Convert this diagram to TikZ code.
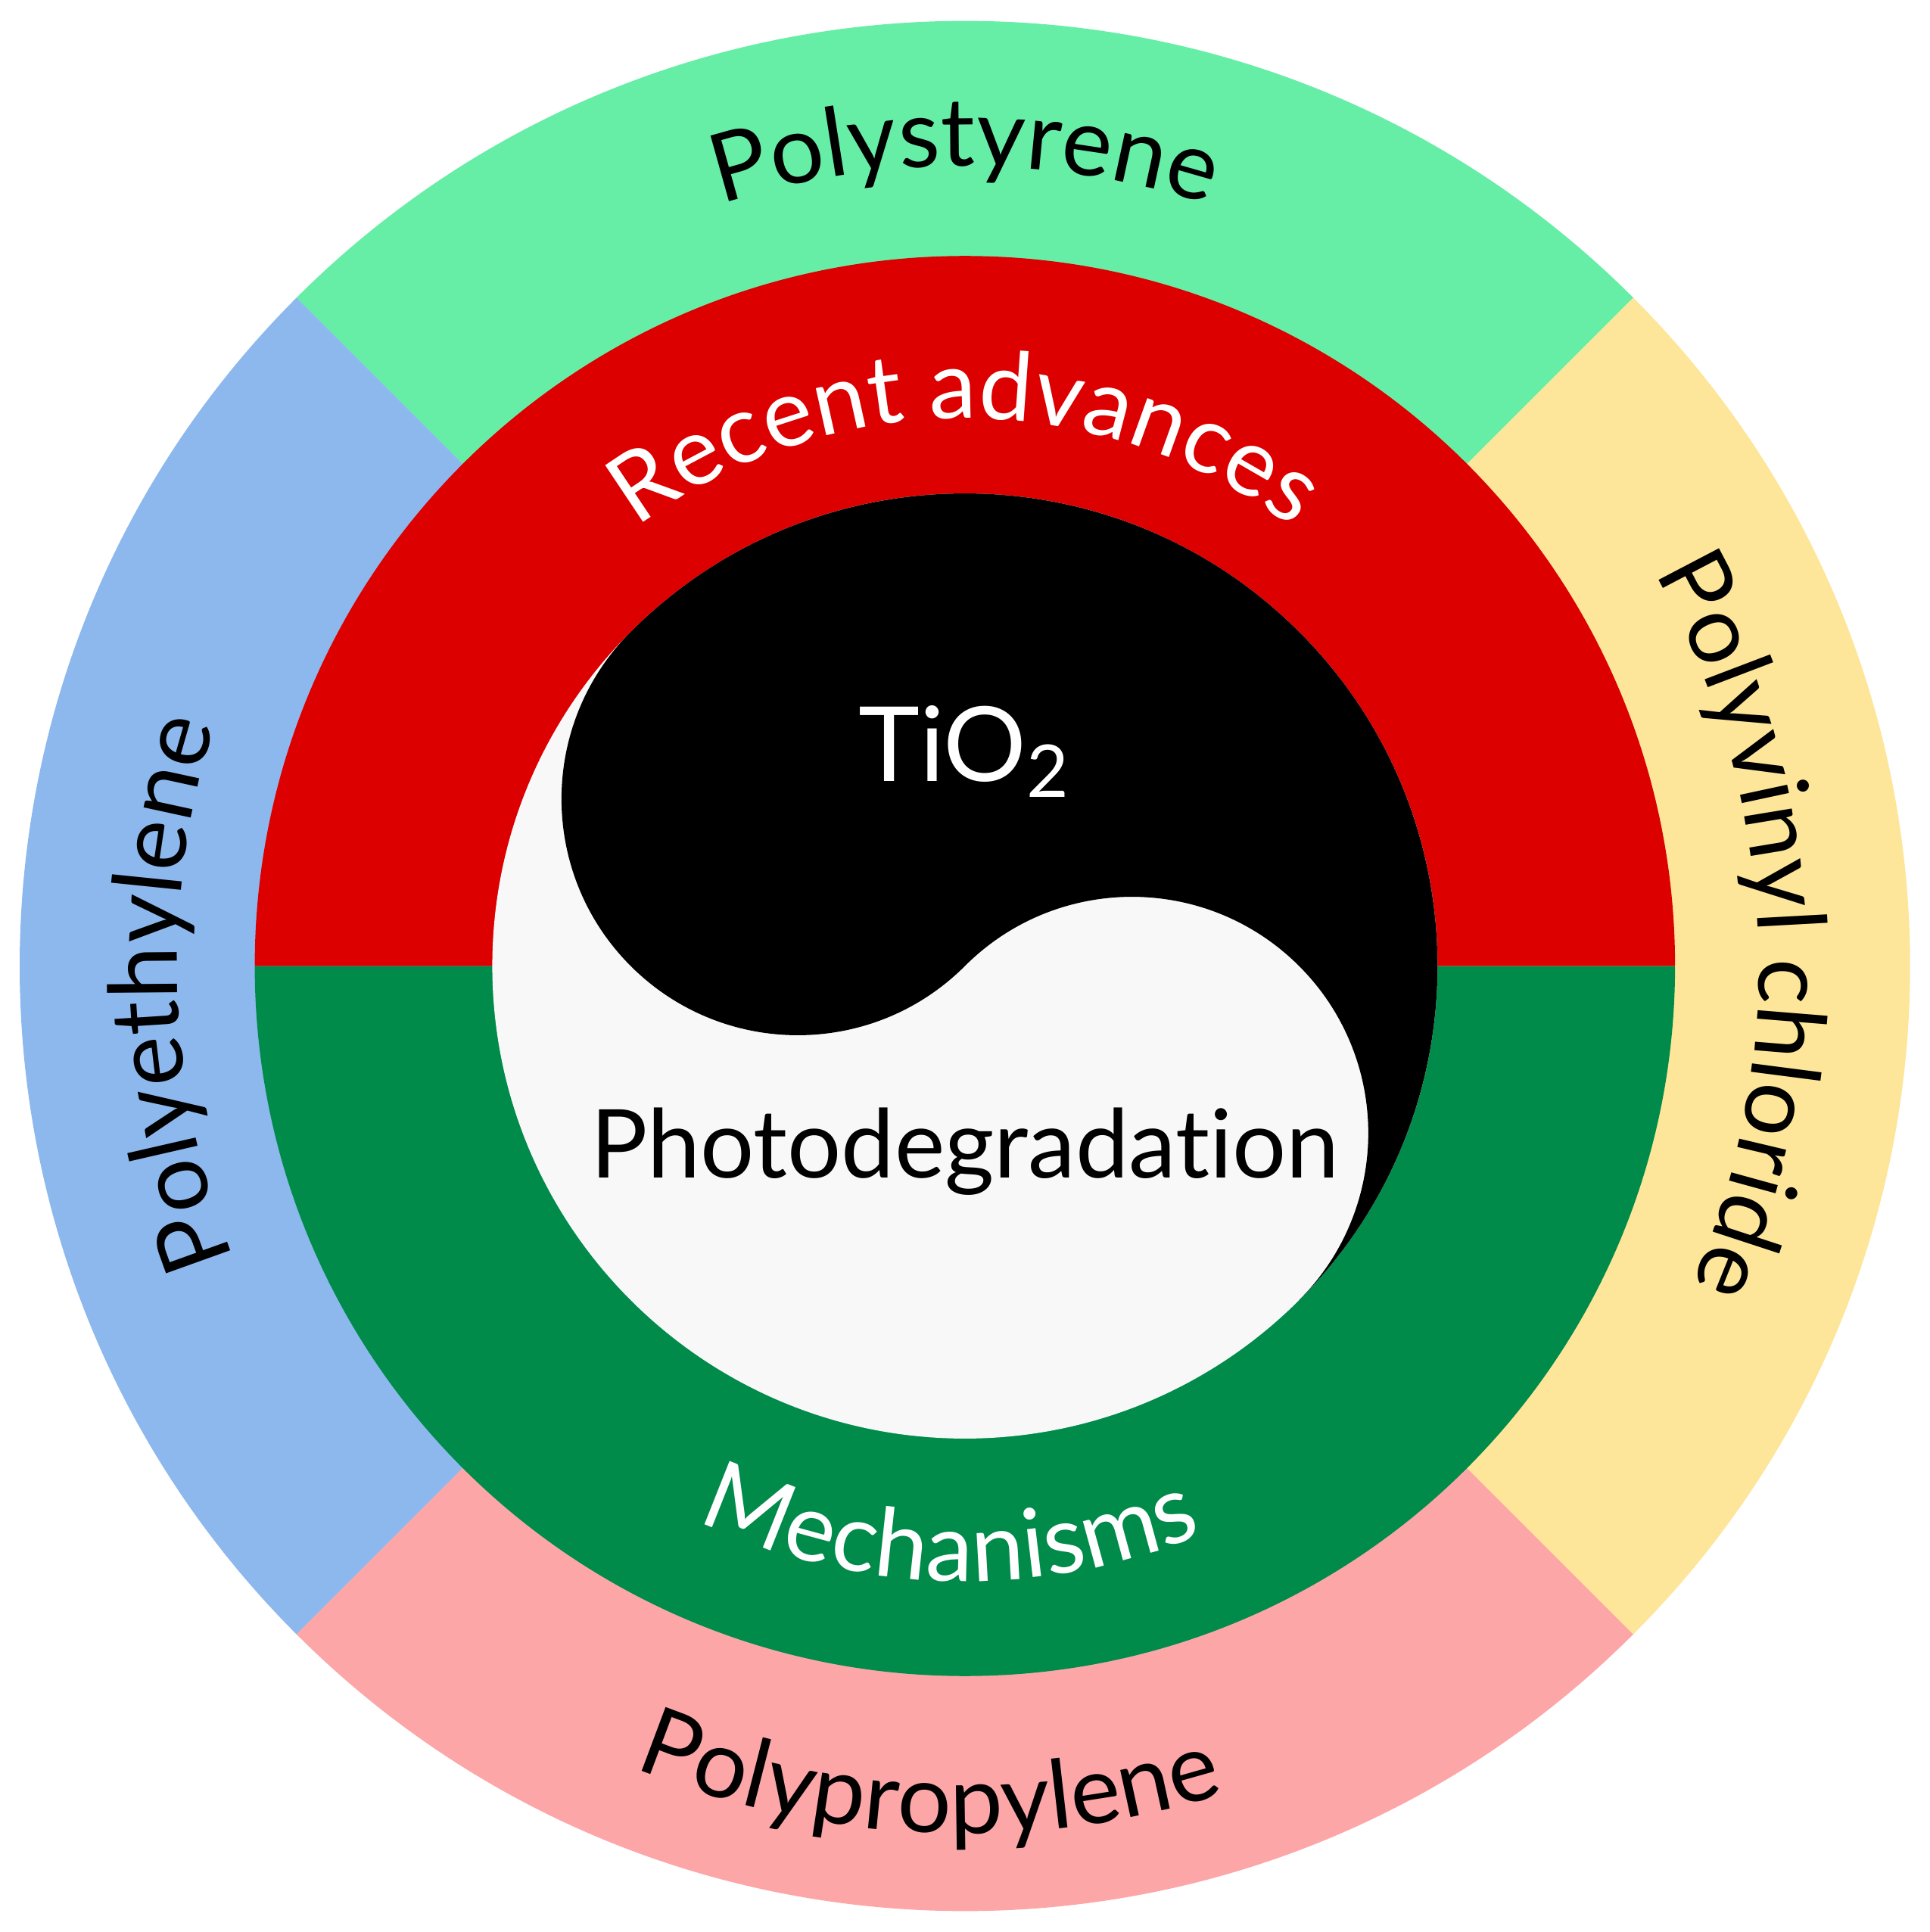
\documentclass[tikz,border=0pt]{standalone}
\usepackage{fontspec}
\setmainfont{Lato}[Ligatures={NoCommon}]
\usetikzlibrary{decorations.text}
\definecolor{cgreen}{HTML}{66EEA6}
\definecolor{cyellow}{HTML}{FDE699}
\definecolor{cpink}{HTML}{FDA6A8}
\definecolor{cblue}{HTML}{8DB8EE}
\definecolor{cred}{HTML}{DD0000}
\definecolor{cdgreen}{HTML}{008B4B}
\definecolor{cwhite}{HTML}{F8F8F8}
\tikzset{
  curvetext/.style={decorate,decoration={text along path,text align=center,text={#1}}}
}
\begin{document}
\begin{tikzpicture}
\useasboundingbox (-7.84,-7.85) rectangle (7.84,7.85);
% outer ring
\fill[cgreen] (0,0) -- (45:7.68) arc[start angle=45,end angle=135,radius=7.68] -- cycle;
\fill[cblue] (0,0) -- (135:7.68) arc[start angle=135,end angle=225,radius=7.68] -- cycle;
\fill[cpink] (0,0) -- (225:7.68) arc[start angle=225,end angle=315,radius=7.68] -- cycle;
\fill[cyellow] (0,0) -- (-45:7.68) arc[start angle=-45,end angle=45,radius=7.68] -- cycle;
% middle ring
\fill[cred] (0:5.77) arc[start angle=0,end angle=180,radius=5.77] -- cycle;
\fill[cdgreen] (180:5.77) arc[start angle=180,end angle=360,radius=5.77] -- cycle;
% yin-yang
\fill[cwhite] (0,0) circle[radius=3.84];
\fill[black] (135:3.84) arc[start angle=135,end angle=-45,radius=3.84]
  arc[start angle=-45,end angle=135,radius=1.92]
  arc[start angle=-45,end angle=-225,radius=1.92] -- cycle;
% center texts
\node[anchor=base,font=\fontsize{24}{28}\selectfont,text=white] (tio) at (0,1.5) {TiO\textsubscript{2}};
\node[anchor=base,font=\fontsize{22}{26}\selectfont] (photo) at (0,-1.72) {Photodegradation};
% curved texts
\path[curvetext={|\fontsize{22}{26}\selectfont\color{white}|Recent advances}]
  (128:4.45) arc[start angle=128,end angle=52,radius=4.45];
\path[curvetext={|\fontsize{22}{26}\selectfont\color{white}|Mechanisms}]
  (235:5.0) arc[start angle=235,end angle=302,radius=5.0];
\path[curvetext={|\fontsize{22}{26}\selectfont|Polystyrene}]
  (115:6.5) arc[start angle=115,end angle=65,radius=6.5];
\path[curvetext={|\fontsize{22}{26}\selectfont|Polypropylene}]
  (240:7.05) arc[start angle=240,end angle=295,radius=7.05];
\path[curvetext={|\fontsize{22}{26}\selectfont|Polyvinyl chloride}]
  (33:6.45) arc[start angle=33,end angle=-27,radius=6.45];
\path[curvetext={|\fontsize{22}{26}\selectfont|Polyethylene}]
  (206:6.4) arc[start angle=206,end angle=158,radius=6.4];
\end{tikzpicture}
\end{document}
